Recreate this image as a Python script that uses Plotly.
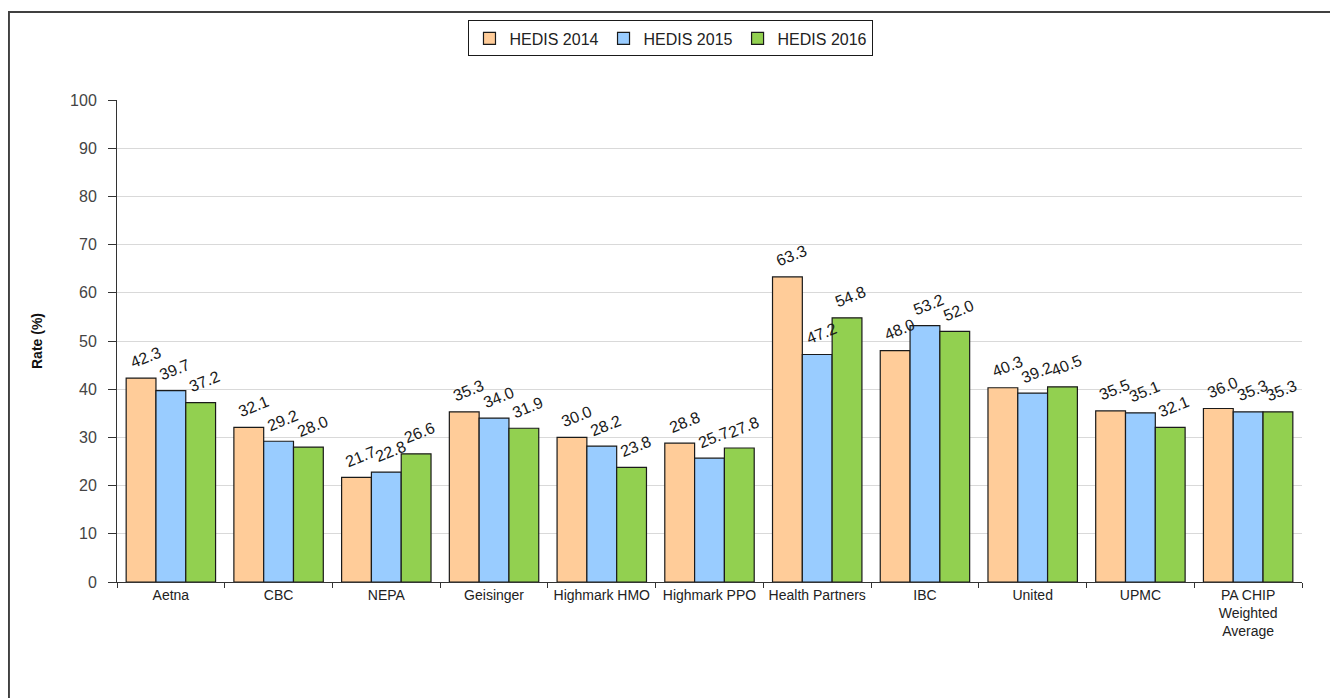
import plotly.graph_objects as go

categories = ["Aetna", "CBC", "NEPA", "Geisinger", "Highmark HMO", "Highmark PPO",
              "Health Partners", "IBC", "United", "UPMC", "PA CHIP<br>Weighted<br>Average"]
hedis_2014 = [42.3, 32.1, 21.7, 35.3, 30.0, 28.8, 63.3, 48.0, 40.3, 35.5, 36.0]
hedis_2015 = [39.7, 29.2, 22.8, 34.0, 28.2, 25.7, 47.2, 53.2, 39.2, 35.1, 35.3]
hedis_2016 = [37.2, 28.0, 26.6, 31.9, 23.8, 27.8, 54.8, 52.0, 40.5, 32.1, 35.3]
series_names = ["HEDIS 2014", "HEDIS 2015", "HEDIS 2016"]
colors = ["#FFCC99", "#99CCFF", "#92D050"]

FONT = "Liberation Sans, Arial, sans-serif"

fig = go.Figure()
all_series = [hedis_2014, hedis_2015, hedis_2016]
for name, vals, col in zip(series_names, all_series, colors):
    fig.add_trace(go.Bar(
        x=categories, y=vals, name=name,
        marker=dict(color=col, line=dict(color="#1a1a1a", width=1.2)),
    ))

shifts = [-29.5, 0, 29.5]
for vals, sh in zip(all_series, shifts):
    for c, v in zip(categories, vals):
        fig.add_annotation(
            x=c, y=v, text=f"{v:.1f}", showarrow=False,
            xshift=sh + 4, yshift=21, textangle=-22,
            font=dict(family=FONT, size=16, color="#1a1a1a"),
        )

# outer frame (page body has an 8px margin)
fig.add_shape(type="rect", xref="paper", yref="paper",
              x0=-0.0912, x1=1.0287, y0=-0.35, y1=1.1825,
              line=dict(color="#404040", width=2), fillcolor="rgba(0,0,0,0)", layer="below")

fig.update_layout(
    width=1330, height=690,
    margin=dict(l=109, r=36, t=89, b=116),
    paper_bgcolor="white", plot_bgcolor="white",
    barmode="group", bargap=0.17, bargroupgap=0,
    font=dict(family=FONT, size=14, color="#222"),
    showlegend=True,
    legend=dict(
        orientation="h", x=0.4675, xanchor="center", y=1.165, yanchor="top",
        bordercolor="#1a1a1a", borderwidth=1, bgcolor="white",
        font=dict(family=FONT, size=16, color="#222"),
        itemwidth=30, tracegroupgap=0,
    ),
    xaxis=dict(
        showline=True, linecolor="#333", linewidth=1,
        ticks="outside", ticklen=5, tickcolor="#333", tickson="boundaries",
        tickfont=dict(family=FONT, size=14, color="#222"),
        showgrid=False,
    ),
    yaxis=dict(
        range=[0, 100], dtick=10,
        showline=True, linecolor="#333", linewidth=1,
        ticks="outside", ticklen=8, tickcolor="#333", ticklabelstandoff=8,
        showgrid=True, gridcolor="#d9d9d9", gridwidth=1,
        tickfont=dict(family=FONT, size=16, color="#444"),
        title=dict(text="<b>Rate (%)</b>", font=dict(family=FONT, size=14, color="#111"), standoff=24),
        zeroline=False,
    ),
)

fig.write_html("out.html")
